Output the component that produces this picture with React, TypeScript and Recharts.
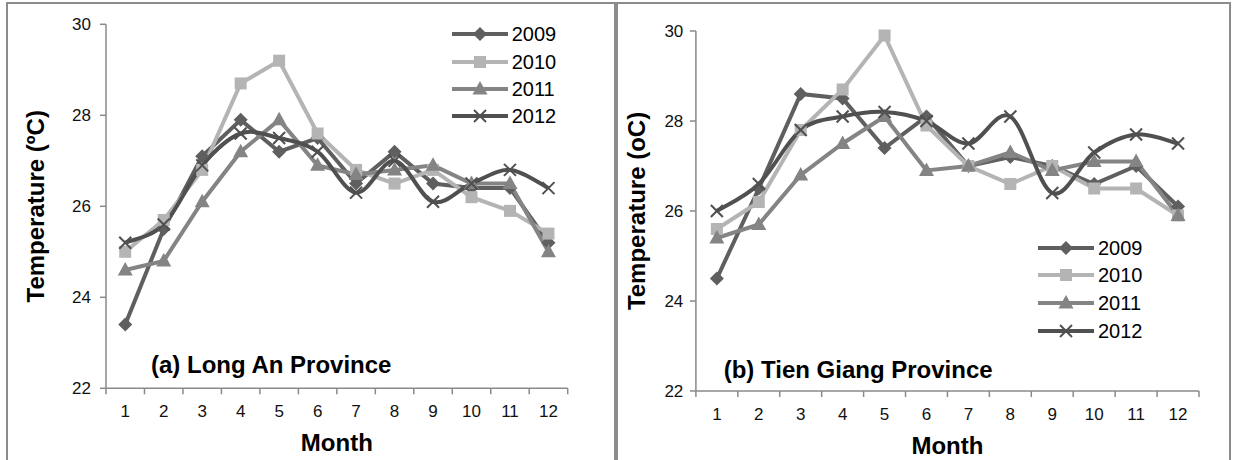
import React from 'react';
import { LineChart, Line, XAxis, YAxis, Legend } from 'recharts';

// ---------- data ----------
const months = [1, 2, 3, 4, 5, 6, 7, 8, 9, 10, 11, 12];
const yTicks = [22, 24, 26, 28, 30];

const longAn2009 = [23.4, 25.5, 27.1, 27.9, 27.2, 27.5, 26.5, 27.2, 26.5, 26.4, 26.4, 25.2];
const longAn2010 = [25.0, 25.7, 26.8, 28.7, 29.2, 27.6, 26.8, 26.5, 26.8, 26.2, 25.9, 25.4];
const longAn2011 = [24.6, 24.8, 26.1, 27.2, 27.9, 26.9, 26.7, 26.8, 26.9, 26.5, 26.5, 25.0];
const longAn2012 = [25.2, 25.6, 26.9, 27.6, 27.5, 27.2, 26.3, 27.0, 26.1, 26.5, 26.8, 26.4];

const tienGiang2009 = [24.5, 26.5, 28.6, 28.5, 27.4, 28.1, 27.0, 27.2, 27.0, 26.6, 27.0, 26.1];
const tienGiang2010 = [25.6, 26.2, 27.8, 28.7, 29.9, 27.9, 27.0, 26.6, 27.0, 26.5, 26.5, 25.9];
const tienGiang2011 = [25.4, 25.7, 26.8, 27.5, 28.1, 26.9, 27.0, 27.3, 26.9, 27.1, 27.1, 25.9];
const tienGiang2012 = [26.0, 26.6, 27.8, 28.1, 28.2, 28.0, 27.5, 28.1, 26.4, 27.3, 27.7, 27.5];

const seriesNames = ['2009', '2010', '2011', '2012'];

// Excel-style smoothed line (uniform Catmull-Rom as cubic Bezier)
function excelSmooth(context: any) {
  let pts: [number, number][] = [];
  return {
    areaStart() {},
    areaEnd() {},
    lineStart() {
      pts = [];
    },
    lineEnd() {
      const n = pts.length;
      if (n === 0) return;
      context.moveTo(pts[0][0], pts[0][1]);
      if (n === 1) return;
      for (let i = 0; i < n - 1; i++) {
        const p0 = pts[Math.max(0, i - 1)];
        const p1 = pts[i];
        const p2 = pts[i + 1];
        const p3 = pts[Math.min(n - 1, i + 2)];
        context.bezierCurveTo(
          p1[0] + (p2[0] - p0[0]) / 6,
          p1[1] + (p2[1] - p0[1]) / 6,
          p2[0] - (p3[0] - p1[0]) / 6,
          p2[1] - (p3[1] - p1[1]) / 6,
          p2[0],
          p2[1]
        );
      }
    },
    point(x: number, y: number) {
      pts.push([+x, +y]);
    },
  };
}

// ---------- styles ----------
type Shape = 'diamond' | 'square' | 'triangle' | 'x';
const seriesStyle: Record<string, { color: string; shape: Shape; curve: any }> = {
  y2009: { color: '#5f5f5f', shape: 'diamond', curve: 'linear' },
  y2010: { color: '#b4b4b4', shape: 'square', curve: 'linear' },
  y2011: { color: '#848484', shape: 'triangle', curve: 'linear' },
  y2012: { color: '#505050', shape: 'x', curve: excelSmooth },
};

const FONT = '"Liberation Sans", Arial, sans-serif';
const AXIS = '#8a8a8a';

function buildData(a: number[], b: number[], c: number[], d: number[]) {
  return months.map((m, i) => ({ month: m, y2009: a[i], y2010: b[i], y2011: c[i], y2012: d[i] }));
}
const leftData = buildData(longAn2009, longAn2010, longAn2011, longAn2012);
const rightData = buildData(tienGiang2009, tienGiang2010, tienGiang2011, tienGiang2012);

const xTicks = [...months.map((m) => m - 0.5), months[months.length - 1] + 0.5, ...months];

function Marker({ shape, cx, cy, color }: { shape: Shape; cx: number; cy: number; color: string }) {
  if (cx == null || cy == null || isNaN(cx) || isNaN(cy)) return null;
  switch (shape) {
    case 'diamond':
      return <polygon points={`${cx},${cy - 7} ${cx + 7},${cy} ${cx},${cy + 7} ${cx - 7},${cy}`} fill={color} />;
    case 'square':
      return <rect x={cx - 6} y={cy - 6} width={12} height={12} fill={color} />;
    case 'triangle':
      return <polygon points={`${cx},${cy - 8} ${cx + 7.5},${cy + 5.5} ${cx - 7.5},${cy + 5.5}`} fill={color} />;
    case 'x':
    default:
      return (
        <g stroke={color} strokeWidth={2}>
          <line x1={cx - 6} y1={cy - 6} x2={cx + 6} y2={cy + 6} />
          <line x1={cx - 6} y1={cy + 6} x2={cx + 6} y2={cy - 6} />
        </g>
      );
  }
}

function XTick(props: any) {
  const { x, y, payload } = props;
  const v = payload.value;
  if (Number.isInteger(v)) {
    return (
      <text x={x} y={y + 23} textAnchor="middle" fontSize={17} fill="#111" fontFamily={FONT}>
        {v}
      </text>
    );
  }
  return <line x1={x} y1={y - 6} x2={x} y2={y} stroke={AXIS} strokeWidth={1.5} />;
}

function makeLegend(rowH: number) {
  return (props: any) => {
    const payload = props.payload || [];
    return (
      <div style={{ fontFamily: FONT }}>
        {payload.map((p: any) => {
          const key = p.dataKey || (p.payload && p.payload.dataKey);
          const st = seriesStyle[key];
          return (
            <div key={key} style={{ height: rowH, display: 'flex', alignItems: 'center' }}>
              <svg width={56} height={20} style={{ display: 'block' }}>
                <line x1={0} y1={10} x2={56} y2={10} stroke={st.color} strokeWidth={4} strokeLinecap="round" />
                <Marker shape={st.shape} cx={28} cy={10} color={st.color} />
              </svg>
              <span style={{ fontSize: 20, marginLeft: 4, color: '#000', lineHeight: '20px' }}>{p.value}</span>
            </div>
          );
        })}
      </div>
    );
  };
}

function Panel(props: {
  data: any[];
  width: number;
  margin: { top: number; right: number; bottom: number; left: number };
  yAxisWidth: number;
  xAxisHeight: number;
  yLabel: string;
  yLabelOffset: number;
  yTickMargin: number;
  monthOffset: number;
  legendPos: { left: number; top: number };
  legendRow: number;
}) {
  const keys = ['y2009', 'y2010', 'y2011', 'y2012'];
  return (
    <LineChart width={props.width} height={460} data={props.data} margin={props.margin}>
      <XAxis
        dataKey="month"
        type="number"
        domain={[0.5, 12.5]}
        ticks={xTicks}
        interval={0}
        tickLine={false}
        tickSize={6}
        tickMargin={0}
        height={props.xAxisHeight}
        axisLine={{ stroke: AXIS, strokeWidth: 1.5 }}
        tick={<XTick />}
        label={{
          value: 'Month',
          position: 'insideBottom',
          offset: props.monthOffset,
          style: { fontSize: 24, fontWeight: 'bold', fill: '#000', fontFamily: FONT },
        }}
      />
      <YAxis
        domain={[22, 30]}
        ticks={yTicks}
        interval={0}
        width={props.yAxisWidth}
        tickSize={6}
        tickMargin={props.yTickMargin}
        axisLine={{ stroke: AXIS, strokeWidth: 1.5 }}
        tickLine={{ stroke: AXIS, strokeWidth: 1.5 }}
        tick={{ fontSize: 17, fill: '#111', fontFamily: FONT }}
        label={{
          value: props.yLabel,
          angle: -90,
          position: 'insideLeft',
          offset: props.yLabelOffset,
          style: { fontSize: 24, fontWeight: 'bold', fill: '#000', textAnchor: 'middle', fontFamily: FONT },
        }}
      />
      <Legend
        layout="vertical"
        align="center"
        verticalAlign="middle"
        content={makeLegend(props.legendRow)}
        wrapperStyle={{ left: props.legendPos.left, top: props.legendPos.top, width: 130, height: 115 }}
      />
      {keys.map((k, i) => {
        const st = seriesStyle[k];
        return (
          <Line
            key={k}
            dataKey={k}
            name={seriesNames[i]}
            type={st.curve}
            stroke={st.color}
            strokeWidth={4}
            isAnimationActive={false}
            dot={(dp: any) => (
              <Marker key={`${k}-${dp.index}`} shape={st.shape} cx={dp.cx} cy={dp.cy} color={st.color} />
            )}
            activeDot={false}
          />
        );
      })}
    </LineChart>
  );
}

export default function App() {
  return (
    <div
      style={{
        position: 'absolute',
        left: 0,
        top: 0,
        width: 1235,
        height: 460,
        background: '#fff',
        overflow: 'hidden',
        fontFamily: FONT,
      }}
    >
      {/* panel frames */}
      <div
        style={{
          position: 'absolute',
          left: 6,
          top: 2,
          width: 610,
          height: 480,
          border: '2px solid #8c8c8c',
          boxSizing: 'border-box',
        }}
      />
      <div
        style={{
          position: 'absolute',
          left: 616,
          top: 2,
          width: 615,
          height: 480,
          border: '2px solid #8c8c8c',
          boxSizing: 'border-box',
        }}
      />

      <div style={{ position: 'absolute', left: 0, top: 0 }}>
        <Panel
          data={leftData}
          width={610}
          margin={{ top: 24.3, right: 42.3, bottom: 0, left: 10 }}
          yAxisWidth={96}
          xAxisHeight={71.7}
          yLabel="Temperature (ºC)"
          yLabelOffset={25}
          yTickMargin={9}
          monthOffset={9}
          legendPos={{ left: 451.7, top: 20.6 }}
          legendRow={27.3}
        />
      </div>
      <div style={{ position: 'absolute', left: 615, top: 0 }}>
        <Panel
          data={rightData}
          width={615}
          margin={{ top: 31, right: 31, bottom: 0, left: 4 }}
          yAxisWidth={76.9}
          xAxisHeight={69}
          yLabel="Temperature (oC)"
          yLabelOffset={17.7}
          yTickMargin={6.6}
          monthOffset={6.3}
          legendPos={{ left: 423, top: 233.9 }}
          legendRow={27.7}
        />
      </div>

      {/* panel annotations */}
      <svg width={1235} height={460} style={{ position: 'absolute', left: 0, top: 0, pointerEvents: 'none' }}>
        <text x={151} y={373.3} fontSize={24} fontWeight="bold" fill="#000" fontFamily={FONT}>
          (a) Long An Province
        </text>
        <text x={723.7} y={378} fontSize={24} fontWeight="bold" fill="#000" fontFamily={FONT}>
          (b) Tien Giang Province
        </text>
      </svg>
    </div>
  );
}
